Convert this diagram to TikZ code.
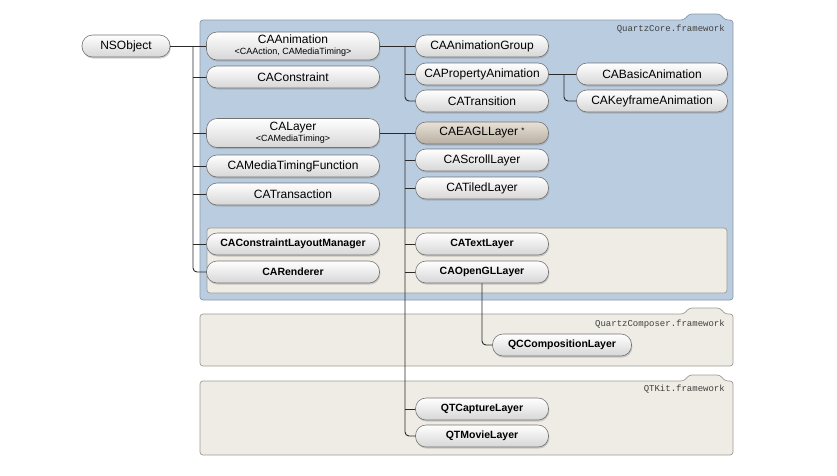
\documentclass[tikz,border=0pt]{standalone}
\usepackage{fontspec}
\setmainfont{Liberation Sans}
\setmonofont{Liberation Mono}
\usetikzlibrary{shadows}
\definecolor{qcblue}{HTML}{BACDE0}
\definecolor{qcblueedge}{HTML}{8898AA}
\definecolor{beige}{HTML}{EEECE4}
\definecolor{beigeedge}{HTML}{9C9C94}
\definecolor{eagl}{HTML}{D9CDBD}
\definecolor{lineclr}{HTML}{2A2A2A}
\begin{document}
\begin{tikzpicture}[x=1pt,y=-1pt,
  cls/.style={draw=black!55, line width=0.6pt, rounded corners=10.5pt, top color=white, bottom color=black!16,
    minimum height=22pt, inner sep=0pt, align=center, font=\fontsize{12}{13}\selectfont,
    drop shadow={shadow xshift=0.8pt, shadow yshift=-1.6pt, opacity=0.35}},
  lw/.style={cls, minimum width=173pt},
  mw/.style={cls, minimum width=133pt},
  rw/.style={cls, minimum width=151pt},
  bf/.style={font=\fontsize{10.5}{12}\selectfont\bfseries},
  sub/.style={font=\fontsize{9}{9}\selectfont},
  conn/.style={draw=lineclr, line width=0.9pt},
  fw/.style={line width=0.7pt, rounded corners=3pt},
  fwlabel/.style={anchor=east, font=\fontsize{9}{10}\selectfont\ttfamily, text=black!75, inner sep=0pt}]
\useasboundingbox[fill=white] (0,0) rectangle (837,475);

% frameworks
\draw[fw, fill=qcblue, draw=qcblueedge] (200,20) -- (684,20) -- (689,14) -- (720,14) -- (725,20) -- (733,20) -- (733,300) -- (200,300) -- cycle;
\node[fwlabel] (lqc) at (725,29) {QuartzCore.framework};
\draw[fw, fill=beige, draw=beigeedge] (207,228) rectangle (727,293);

\draw[fw, fill=beige, draw=beigeedge] (200,314) -- (684,314) -- (689,308) -- (720,308) -- (725,314) -- (733,314) -- (733,366) -- (200,366) -- cycle;
\node[fwlabel] (lqcomp) at (725,324) {QuartzComposer.framework};

\draw[fw, fill=beige, draw=beigeedge] (200,381) -- (684,381) -- (689,375) -- (720,375) -- (725,381) -- (733,381) -- (733,455) -- (200,455) -- cycle;
\node[fwlabel] (lqt) at (725,389) {QTKit.framework};

% nodes
\node[cls, minimum width=88pt] (nso) at (126,46) {NSObject};
\node[lw, minimum height=28pt] (caan) at (293,46) {CAAnimation\\[-2pt]{\fontsize{9}{9}\selectfont <CAAction, CAMediaTiming>}};
\node[lw] (cacons) at (293,77) {CAConstraint};
\node[lw, minimum height=29pt] (calay) at (293,133) {CALayer\\[-2pt]{\fontsize{9}{9}\selectfont <CAMediaTiming>}};
\node[lw] (camtf) at (293,166) {CAMediaTimingFunction};
\node[lw] (catr) at (293,194) {CATransaction};
\node[lw, bf] (caclm) at (293,244) {CAConstraintLayoutManager};
\node[lw, bf] (caren) at (293,272) {CARenderer};

\node[mw] (caag) at (482,46) {CAAnimationGroup};
\node[mw] (capa) at (482,74) {CAPropertyAnimation};
\node[mw] (catn) at (482,101) {CATransition};
\node[mw, top color=eagl!60, bottom color=eagl!85!black] (caeagl) at (482,133) {CAEAGLLayer\ \raisebox{2pt}{\fontsize{8}{8}\selectfont *}};
\node[mw] (casl) at (482,160) {CAScrollLayer};
\node[mw] (catl) at (482,188) {CATiledLayer};
\node[mw, bf] (catext) at (482,244) {CATextLayer};
\node[mw, bf] (cagl) at (482,272) {CAOpenGLLayer};

\node[rw] (caba) at (652,74) {CABasicAnimation};
\node[rw] (caka) at (652,101) {CAKeyframeAnimation};

\node[cls, bf, minimum width=139pt] (qccl) at (562,345) {QCCompositionLayer};
\node[mw, bf] (qtcl) at (482,409) {QTCaptureLayer};
\node[mw, bf] (qtml) at (482,436) {QTMovieLayer};

% connectors
\coordinate (t1) at (193,46);
\draw[conn] (nso.east) -- (t1);
\draw[conn, rounded corners=4pt] (t1) |- (caren.west);
\foreach \n in {caan,cacons,calay,camtf,catr,caclm}
  \draw[conn] (\n.west -| t1) -- (\n.west);

\coordinate (t2) at (405,46);
\draw[conn] (caan.east) -- (t2);
\draw[conn, rounded corners=4pt] (t2) |- (catn.west);
\foreach \n in {caag,capa}
  \draw[conn] (\n.west -| t2) -- (\n.west);

\coordinate (t3) at (564,74);
\draw[conn] (capa.east) -- (t3);
\draw[conn, rounded corners=4pt] (t3) |- (caka.west);
\draw[conn] (caba.west -| t3) -- (caba.west);

\coordinate (t4) at (405,133);
\draw[conn] (calay.east) -- (t4);
\draw[conn, rounded corners=4pt] (t4) |- (qtml.west);
\foreach \n in {caeagl,casl,catl,catext,cagl,qtcl}
  \draw[conn] (\n.west -| t4) -- (\n.west);

\draw[conn, rounded corners=4pt] (cagl.south) |- (qccl.west);
\end{tikzpicture}
\end{document}
